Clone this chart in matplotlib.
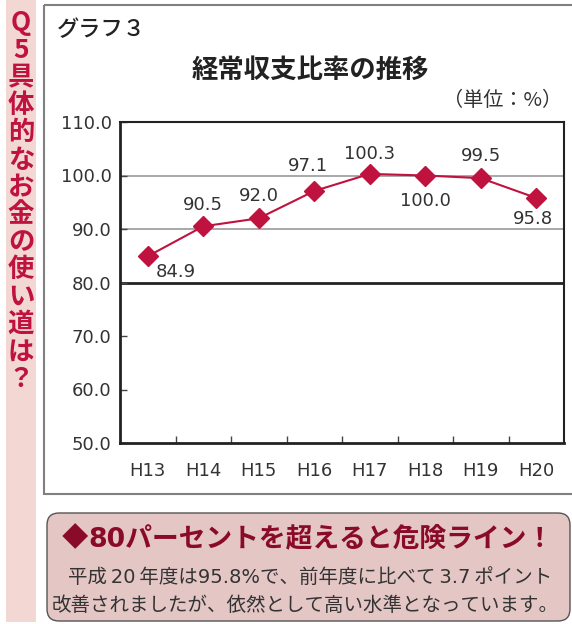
import matplotlib
matplotlib.use("Agg")
import matplotlib.pyplot as plt
from matplotlib.patches import Rectangle, FancyBboxPatch

plt.rcParams['font.family'] = ['Noto Sans CJK JP', 'DejaVu Sans']
num_font = ['DejaVu Sans', 'Noto Sans CJK JP']

# data
years = ["H13", "H14", "H15", "H16", "H17", "H18", "H19", "H20"]
ratio = [84.9, 90.5, 92.0, 97.1, 100.3, 100.0, 99.5, 95.8]
# label offsets in pixels (dx, dy), dy positive = up
label_off = [(28, -16), (0, 21), (0, 22), (-6, 25), (0, 20), (0, -25), (0, 22), (-3, -21)]
yticks = [50, 60, 70, 80, 90, 100, 110]

W, H = 572, 624
fig = plt.figure(figsize=(W / 100, H / 100), dpi=100)

# background axes in pixel coordinates
bg = fig.add_axes([0, 0, 1, 1])
bg.set_xlim(0, W)
bg.set_ylim(H, 0)
bg.axis("off")

crimson = "#c0123e"

# left pink strip with vertical heading
bg.add_patch(Rectangle((6, 0), 30, 622, facecolor="#f2d7d3", edgecolor="none"))
side = "Q5具体的なお金の使い道は？"
for i, ch in enumerate(side):
    bg.text(21, 23 + i * 27.4, ch, color=crimson, fontsize=19, fontweight="bold",
            ha="center", va="center")

# outer frame of the chart
bg.add_patch(Rectangle((44, 5), 540, 489, facecolor="none", edgecolor="#808080", lw=1.5))
bg.text(57, 30, "グラフ３", fontsize=16, fontweight="medium", color="#222",
        ha="left", va="center")
bg.text(310, 70, "経常収支比率の推移", fontsize=19, fontweight="bold", color="#222",
        ha="center", va="center")
bg.text(562, 101, "（単位：%）", fontsize=14.5, color="#333", ha="right", va="center")

# bottom note box
bg.add_patch(FancyBboxPatch((47, 513), 523, 108, boxstyle="round,pad=0,rounding_size=12",
                            facecolor="#e4c6c5", edgecolor="#555555", lw=1))
bg.text(62, 539, "◆", fontsize=19, color="#8a0a2a", ha="left", va="center")
bg.text(88, 539, "80パーセントを超えると危険ライン！", fontsize=19.3, fontweight="bold",
        color="#8a0a2a", ha="left", va="center", family=num_font)
bg.text(68, 577, "平成\u200920\u2009年度は95.8%で、前年度に比べて\u20093.7\u2009ポイント",
        fontsize=14, color="#333", ha="left", va="center", family=num_font)
bg.text(52, 605, "改善されましたが、依然として高い水準となっています。", fontsize=14,
        color="#333", ha="left", va="center")

# main chart axes
left, right, top, bottom = 120, 564, 122, 443
ax = fig.add_axes([left / W, (H - bottom) / H, (right - left) / W, (bottom - top) / H])
x = list(range(len(years)))
ax.set_xlim(-0.5, len(years) - 0.5)
ax.set_ylim(50, 110)

ax.axhline(90, color="#999999", lw=1.2, zorder=1)
ax.axhline(100, color="#999999", lw=1.2, zorder=1)
ax.axhline(80, color="#222222", lw=2, zorder=1)

ax.plot(x, ratio, color=crimson, lw=1.5, marker="D", markersize=10, zorder=3)
for xi, v, (dx, dy) in zip(x, ratio, label_off):
    ax.annotate(f"{v:.1f}", (xi, v), xytext=(dx, dy), textcoords="offset pixels",
                ha="center", va="center", fontsize=13, color="#333", family="DejaVu Sans")

ax.set_yticks(yticks)
ax.set_yticklabels([f"{t:.1f}" for t in yticks], fontsize=13, color="#333",
                   family="DejaVu Sans")
ax.set_xticks(x)
ax.set_xticklabels(years, fontsize=13, color="#333", family="DejaVu Sans")
ax.set_xticks([i + 0.5 for i in x[:-1]], minor=True)
ax.tick_params(axis="x", which="major", length=0, pad=14)
ax.tick_params(axis="x", which="minor", direction="in", length=5, width=1, color="#444")
ax.tick_params(axis="y", direction="in", length=5, width=1, color="#444", pad=6)

for s in ["left", "bottom"]:
    ax.spines[s].set_linewidth(2)
    ax.spines[s].set_color("#222")
for s in ["top", "right"]:
    ax.spines[s].set_linewidth(1.5)
    ax.spines[s].set_color("#222")

fig.savefig("out.png", dpi=100)
